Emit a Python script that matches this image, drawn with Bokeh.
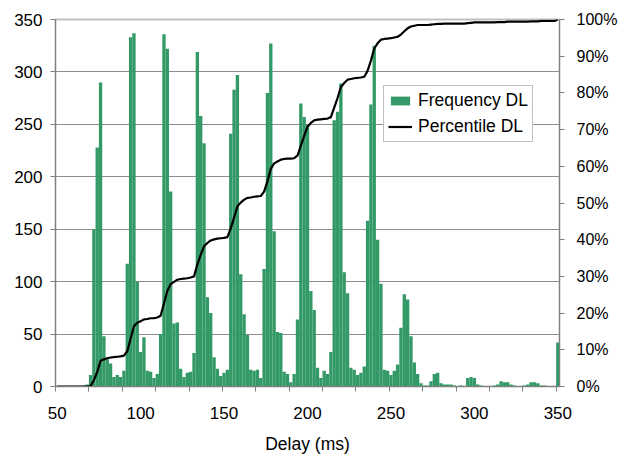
from bokeh.plotting import figure
from bokeh.models import (Range1d, LinearAxis, FixedTicker, PrintfTickFormatter,
                          Legend, LegendItem, ColumnDataSource)
from bokeh.embed import file_html
from bokeh.resources import INLINE

# ---- data (2 ms bins, category = bin value in ms) ----
delay_ms = list(range(50, 352, 2))  # 50, 52, ..., 350

freq_dl = [
    0, 0, 0, 0, 0, 0, 0, 0, 1, 2,
    11, 150, 228, 290, 48, 26, 22, 9, 11, 9,
    15, 117, 333, 337, 100, 33, 47, 15, 14, 8,
    12, 50, 336, 322, 186, 60, 61, 17, 9, 13,
    14, 32, 319, 258, 232, 85, 70, 28, 17, 10,
    13, 16, 241, 283, 297, 107, 69, 49, 16, 15,
    16, 8, 112, 280, 327, 148, 52, 51, 14, 12,
    4, 12, 64, 270, 257, 250, 91, 73, 18, 8,
    15, 12, 33, 254, 262, 289, 109, 89, 18, 16,
    11, 13, 19, 158, 269, 325, 140, 98, 16, 15,
    11, 15, 21, 56, 88, 83, 48, 23, 12, 3,
    1, 1, 5, 12, 13, 3, 2, 2, 2, 1,
    0, 1, 0, 8, 9, 8, 2, 1, 0, 0,
    0, 1, 2, 5, 4, 4, 2, 1, 0, 0,
    1, 2, 4, 4, 3, 1, 1, 0, 0, 0,
    42,
]

percentile_dl = [
    0, 0, 0, 0, 0, 0, 0, 0, 0, 0,
    0.1, 1.7, 4.0, 7.0, 7.4, 7.7, 7.9, 8.0, 8.1, 8.2,
    8.4, 9.6, 13.0, 16.4, 17.4, 17.8, 18.3, 18.4, 18.6, 18.6,
    18.8, 19.3, 22.7, 26.0, 27.9, 28.5, 29.1, 29.3, 29.4, 29.5,
    29.7, 30.0, 33.2, 35.9, 38.2, 39.1, 39.8, 40.1, 40.3, 40.4,
    40.5, 40.7, 43.1, 46.0, 49.1, 50.1, 50.9, 51.4, 51.5, 51.7,
    51.8, 51.9, 53.1, 55.9, 59.3, 60.8, 61.3, 61.8, 62.0, 62.1,
    62.1, 62.2, 62.9, 65.6, 68.3, 70.8, 71.8, 72.5, 72.7, 72.8,
    72.9, 73.0, 73.4, 76.0, 78.6, 81.6, 82.7, 83.6, 83.8, 84.0,
    84.1, 84.2, 84.4, 86.0, 88.8, 92.1, 93.5, 94.5, 94.7, 94.8,
    94.9, 95.1, 95.3, 95.9, 96.8, 97.6, 98.1, 98.3, 98.5, 98.5,
    98.5, 98.5, 98.6, 98.7, 98.8, 98.8, 98.9, 98.9, 98.9, 98.9,
    98.9, 98.9, 98.9, 99.0, 99.1, 99.2, 99.2, 99.2, 99.2, 99.2,
    99.2, 99.2, 99.3, 99.3, 99.3, 99.4, 99.4, 99.4, 99.4, 99.4,
    99.4, 99.4, 99.5, 99.5, 99.5, 99.6, 99.6, 99.6, 99.6, 99.6,
    100.0,
]

x_labels = [50, 100, 150, 200, 250, 300, 350]
x_tick_marks = [49, 69, 89, 109, 129, 149, 169, 189, 209, 229, 249, 269, 289, 309, 329, 349]
y_left_ticks = [0, 50, 100, 150, 200, 250, 300, 350]
y_right_ticks = [0, 10, 20, 30, 40, 50, 60, 70, 80, 90, 100]

src = ColumnDataSource(dict(delay=delay_ms, freq=freq_dl, pct=percentile_dl))

FONT = "Liberation Sans"
GRAY = "#808080"

p = figure(width=624, height=456, x_range=Range1d(49, 351), y_range=Range1d(0, 350),
           output_backend="svg", toolbar_location=None,
           min_border_left=55, min_border_right=65, min_border_top=19, min_border_bottom=70,
           background_fill_color="white", border_fill_color="white")
p.extra_y_ranges = {"pct": Range1d(0, 100)}

p.outline_line_color = "#c0c0c0"
p.outline_line_width = 2
p.xgrid.visible = False
p.ygrid.grid_line_color = "#8c8c8c"
p.ygrid.grid_line_width = 1

xa = p.xaxis[0]
xa.ticker = FixedTicker(ticks=x_labels, minor_ticks=x_tick_marks)
xa.major_tick_in = 0
xa.major_tick_out = 0
xa.minor_tick_in = 0
xa.minor_tick_out = 5
xa.minor_tick_line_color = GRAY
xa.axis_line_color = GRAY
xa.major_label_standoff = 15
xa.major_label_text_font = FONT
xa.major_label_text_font_size = "17px"
xa.major_label_text_color = "black"
xa.axis_label = "Delay (ms)"
xa.axis_label_text_font = FONT
xa.axis_label_text_font_size = "17.5px"
xa.axis_label_text_font_style = "normal"
xa.axis_label_text_color = "black"
xa.axis_label_standoff = 12

ya = p.yaxis[0]
ya.ticker = FixedTicker(ticks=y_left_ticks, minor_ticks=[])
ya.major_tick_in = 0
ya.major_tick_out = 5
ya.major_tick_line_color = GRAY
ya.axis_line_color = GRAY
ya.major_label_standoff = 8
ya.major_label_text_font = FONT
ya.major_label_text_font_size = "17px"
ya.major_label_text_color = "black"

ra = LinearAxis(y_range_name="pct", ticker=FixedTicker(ticks=y_right_ticks, minor_ticks=[]),
                formatter=PrintfTickFormatter(format="%d%%"))
ra.major_tick_in = 0
ra.major_tick_out = 5
ra.major_tick_line_color = GRAY
ra.axis_line_color = GRAY
ra.major_label_standoff = 12
ra.major_label_text_font = FONT
ra.major_label_text_font_size = "16px"
ra.major_label_text_color = "black"
p.add_layout(ra, "right")

r_bar = p.vbar(x="delay", top="freq", width=2, bottom=0, source=src,
               fill_color="#339966", line_color=None)
r_line = p.line(x="delay", y="pct", y_range_name="pct", source=src,
                line_color="black", line_width=2.2, line_join="round")

legend = Legend(items=[LegendItem(label="Frequency DL", renderers=[r_bar]),
                       LegendItem(label="Percentile DL", renderers=[r_line])],
                location=(328, 244))
legend.border_line_color = GRAY
legend.border_line_width = 1
legend.background_fill_color = "white"
legend.background_fill_alpha = 1
legend.label_text_font = FONT
legend.label_text_font_size = "17.5px"
legend.label_text_color = "black"
legend.glyph_width = 24
legend.glyph_height = 11
legend.label_height = 20
legend.label_standoff = 6
legend.padding = 4
legend.spacing = 5
legend.margin = 0
p.add_layout(legend)

open("out.html", "w").write(file_html(p, INLINE))
